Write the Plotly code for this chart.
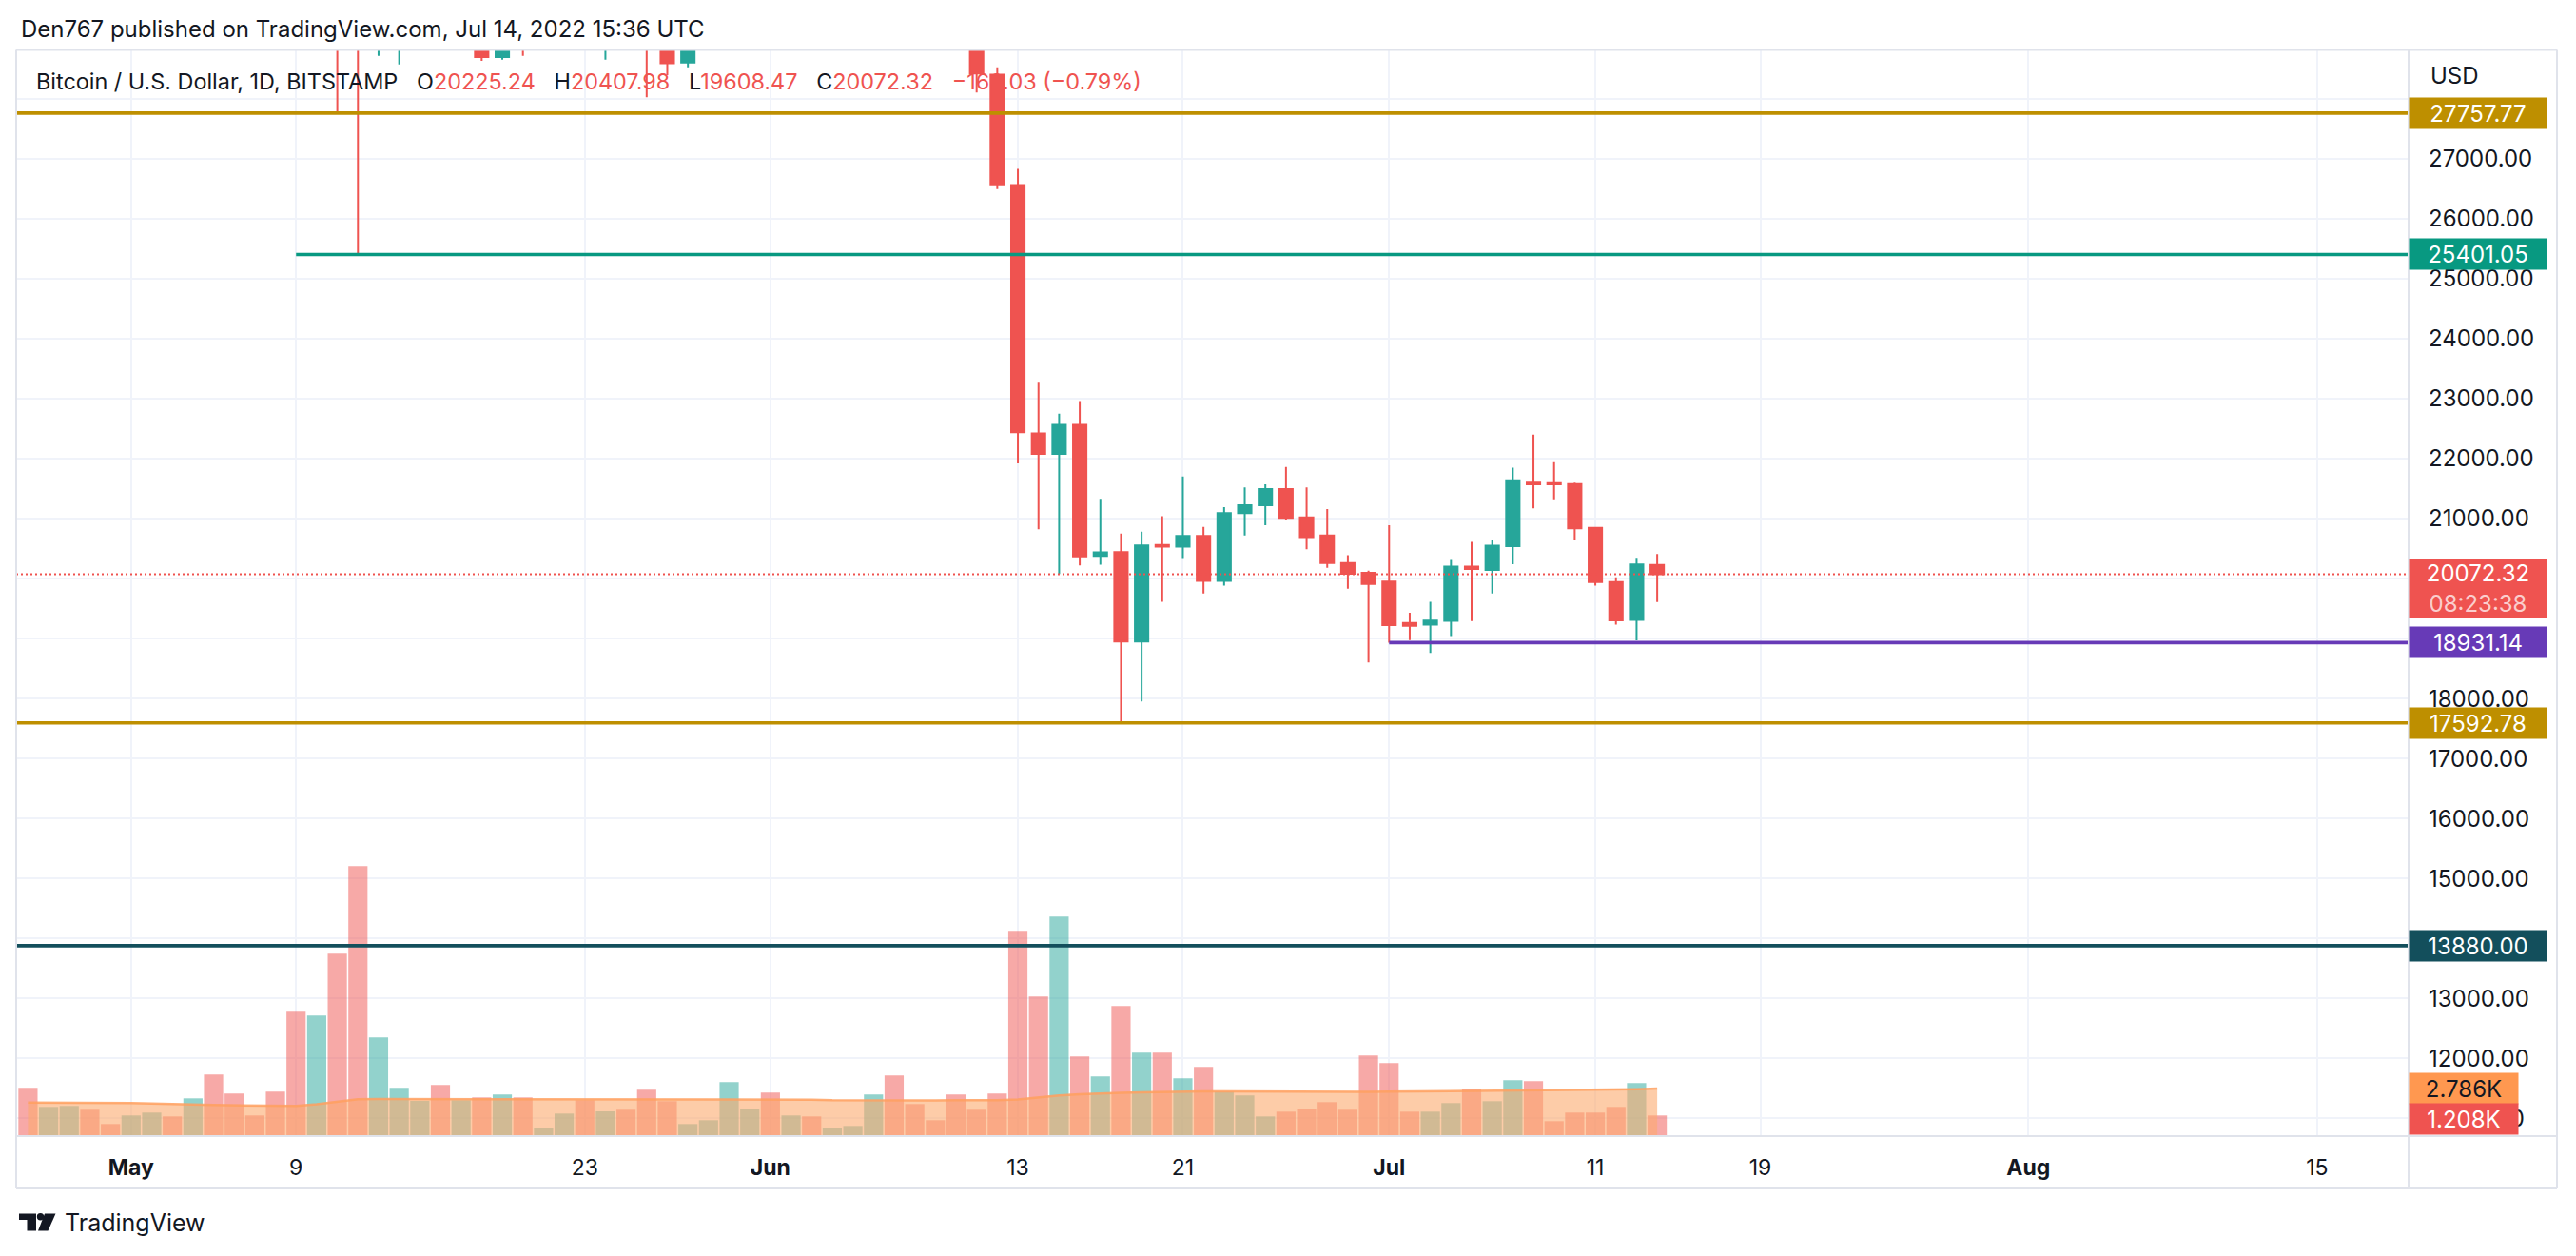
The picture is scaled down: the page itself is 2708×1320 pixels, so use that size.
import plotly.graph_objects as go
import pandas as pd

# ---------------- data ----------------
dates = pd.date_range("2022-04-26", "2022-07-14", freq="D")

open_ = [40430, 38120, 39240, 39750, 38600, 37650, 38470, 38530, 37730, 39690,
         36550, 36010, 35470, 34060, 30080, 31010, 29080, 29030, 29280, 30080,
         31330, 29850, 30430, 28690, 30300, 29190, 29430, 30290, 29100, 29650,
         29540, 29190, 28600, 29020, 29450, 31740, 31800, 29800, 30450, 29700,
         29860, 29900, 31370, 31130, 30200, 30110, 29090, 28400, 26560, 22420,
         22080, 22560, 20378, 20440, 18950, 20560, 20530, 20710, 19960, 21090,
         21220, 21490, 21020, 20720, 20260, 20095, 19950, 19260, 19230, 19296,
         20200, 20144, 20540, 21600, 21590, 21573, 20846, 19942, 19312, 20225.24]
high = [40800, 39450, 40370, 39920, 38800, 38700, 39150, 38640, 40000, 39820,
        36660, 36120, 35500, 34240, 32650, 32150, 30030, 30990, 30300, 31440,
        31330, 30770, 30680, 30530, 30740, 29620, 30470, 30650, 29820, 30190,
        29850, 29370, 29200, 29540, 32200, 32380, 31960, 30650, 30670, 29950,
        30160, 31740, 31550, 31320, 30690, 30380, 29440, 28520, 26830, 23280,
        22750, 22960, 21330, 20750, 20780, 21040, 21700, 20860, 21190, 21520,
        21570, 21860, 21520, 21160, 20390, 20130, 20890, 19430, 19610, 20310,
        20610, 20645, 21850, 22400, 21940, 21600, 20850, 20020, 20346, 20407.98]
low = [37700, 37880, 38870, 38200, 37600, 37400, 38050, 37500, 37660, 35800,
       35260, 34780, 33700, 30030, 29730, 27757.77, 25401.05, 28710, 28570, 29480,
       29100, 29450, 28630, 28650, 28710, 28950, 29240, 28890, 28650, 29320,
       28020, 28390, 28520, 28840, 29300, 31200, 29500, 29580, 29300, 29480,
       29510, 29880, 29220, 29860, 29950, 28870, 28100, 26490, 21920, 20820,
       20075, 20220, 20230, 17592.78, 17950, 19610, 20340, 19750, 19880, 20720,
       20890, 20970, 20490, 20180, 19830, 18600, 18931.14, 18975, 18760, 19040,
       19290, 19750, 20240, 21170, 21320, 20640, 19880, 19230, 18970, 19608.47]
close = [38120, 39240, 39750, 38600, 37650, 38470, 38530, 37730, 39690, 36550,
         36010, 35470, 34060, 30080, 31010, 29080, 29030, 29280, 30080, 31330,
         29850, 30430, 28690, 30300, 29190, 29430, 30290, 29100, 29650, 29540,
         29190, 28590, 29020, 29450, 31740, 31800, 29800, 30450, 29700, 29860,
         29900, 31370, 31130, 30200, 30110, 29090, 28420, 26570, 22440, 22080,
         22560, 20370, 20435, 18950, 20550, 20530, 20710, 19960, 21090, 21220,
         21490, 21010, 20690, 20260, 20080, 19910, 19225, 19210, 19300, 20200,
         20160, 20548, 21637, 21570, 21570, 20838, 19942, 19304, 20232.35, 20072.32]
volume = [2824, 1710, 1766, 1543, 707, 1209, 1376, 1153, 2211, 3604,
          2490, 1209, 2601, 7280, 7057, 10678, 15802, 5776, 2824, 2061,
          2991, 2100, 2267, 2434, 2267, 485, 1320, 2100, 1448, 1543,
          2713, 2044, 707, 930, 3158, 1599, 2545, 1209, 1153, 485,
          596, 2434, 3548, 1877, 930, 2434, 1543, 2490, 12014, 8171,
          12850, 4662, 3492, 7614, 4885, 4885, 3381, 4049, 2601, 2378,
          1153, 1431, 1599, 1988, 1543, 4718, 4272, 1431, 1431, 1933,
          2768, 2044, 3270, 3214, 874, 1376, 1376, 1710, 3102, 1208]
vol_ma = [1968, 1968, 1960, 1950, 1940, 1930, 1912, 1900, 1850, 1820,
          1810, 1800, 1780, 1764, 1860, 2010, 2154, 2170, 2170, 2160,
          2160, 2160, 2160, 2154, 2154, 2154, 2154, 2154, 2154, 2154,
          2154, 2154, 2154, 2154, 2154, 2150, 2150, 2150, 2130, 2098,
          2090, 2090, 2090, 2090, 2090, 2098, 2098, 2098, 2150, 2284,
          2377, 2451, 2507, 2540, 2562, 2590, 2600, 2618, 2618, 2610,
          2600, 2590, 2581, 2581, 2581, 2590, 2599, 2610, 2618, 2630,
          2655, 2670, 2680, 2692, 2700, 2711, 2720, 2730, 2750, 2786]

level_values = [27757.77, 25401.05, 18931.14, 17592.78, 13880.00]
level_colors = ["#be8f00", "#089981", "#673ab7", "#be8f00", "#134f5c"]
level_starts = [None, "2022-05-09", "2022-07-01", None, None]
countdown = "08:23:38"

price_ticks = list(range(11000, 29000, 1000))
hidden_price_labels = [14000, 19000, 20000, 28000]   # covered by price labels in the original
x_tick_dates = ["2022-05-01", "2022-05-09", "2022-05-23", "2022-06-01", "2022-06-13",
                "2022-06-21", "2022-07-01", "2022-07-11", "2022-07-19", "2022-08-01",
                "2022-08-15"]
x_tick_text = ["<b>May</b>", "9", "23", "<b>Jun</b>", "13", "21", "<b>Jul</b>", "11",
               "19", "<b>Aug</b>", "15"]

X_RANGE = ["2022-04-25 10:16", "2022-08-19 10:25"]
PRICE_RANGE = [10706, 28803]
VOL_RANGE = [0, 63550]

UP, DOWN = "#26a69a", "#ef5350"
TXT = "#131722"
FONT = "Inter"
BORDER = "#e0e3eb"
GRID = "#f0f3fa"

# ---------------- geometry helpers (full-page pixels -> paper) ----------------
PL, PR, PT, PB = 17, 2532, 53, 1194   # plot area in page px


def px(x):
    return (x - PL) / (PR - PL)


def py(y):
    return (PB - y) / (PB - PT)


fig = go.Figure()

# volume bars (base axis)
vol_colors = ["rgba(38,166,154,0.5)" if c >= o else "rgba(239,83,80,0.5)"
              for o, c in zip(open_, close)]
fig.add_trace(go.Bar(x=dates, y=volume, marker=dict(color=vol_colors, line=dict(width=0)),
                     width=0.93 * 86400000, yaxis="y", xaxis="x", hoverinfo="skip",
                     showlegend=False))
# volume MA area
fig.add_trace(go.Scatter(x=dates, y=vol_ma, mode="lines", fill="tozeroy",
                         fillcolor="rgba(252,170,110,0.6)",
                         line=dict(color="rgba(255,160,95,0.85)", width=2.5),
                         yaxis="y", xaxis="x", hoverinfo="skip", showlegend=False))

# candles (overlay axis)
fig.add_trace(go.Candlestick(x=dates, open=open_, high=high, low=low, close=close,
                             increasing=dict(line=dict(color=UP, width=2), fillcolor=UP),
                             decreasing=dict(line=dict(color=DOWN, width=2), fillcolor=DOWN),
                             whiskerwidth=0, yaxis="y2", xaxis="x", showlegend=False,
                             hoverinfo="skip"))

shapes = []
# horizontal levels
for v, col, start in zip(level_values, level_colors, level_starts):
    if start is None:
        shapes.append(dict(type="line", xref="paper", yref="y2", x0=0, x1=1, y0=v, y1=v,
                           line=dict(color=col, width=3.6), layer="above"))
    else:
        shapes.append(dict(type="line", xref="x", yref="y2", x0=start, x1=X_RANGE[1],
                           y0=v, y1=v, line=dict(color=col, width=3.6), layer="above"))
# last price dotted line
last = close[-1]
shapes.append(dict(type="line", xref="paper", yref="y2", x0=0, x1=1, y0=last, y1=last,
                   line=dict(color=DOWN, width=2, dash="2px,3px"), layer="above"))

# frame lines
RIGHT = px(2688)
BOT = py(1249)
TOP = py(52.5)
for d in [
    dict(x0=0, x1=RIGHT, y0=TOP, y1=TOP),        # top
    dict(x0=0, x1=RIGHT, y0=BOT, y1=BOT),        # bottom
    dict(x0=0, x1=0, y0=BOT, y1=TOP),            # left
    dict(x0=RIGHT, x1=RIGHT, y0=BOT, y1=TOP),    # right
    dict(x0=1, x1=1, y0=BOT, y1=TOP),            # price axis separator
    dict(x0=0, x1=RIGHT, y0=0, y1=0),            # time axis separator
]:
    shapes.append(dict(type="line", xref="paper", yref="paper",
                       line=dict(color=BORDER, width=2), layer="above", **d))


# TradingView logo
def poly(points):
    s = "M " + " L ".join(f"{px(a):.5f},{py(b):.5f}" for a, b in points) + " Z"
    return s


shapes.append(dict(type="path", xref="paper", yref="paper", line=dict(width=0),
                   fillcolor=TXT,
                   path=poly([(20, 1275.5), (38, 1275.5), (38, 1293.5), (28.5, 1293.5),
                              (28.5, 1282), (20, 1282)])))
shapes.append(dict(type="path", xref="paper", yref="paper", line=dict(width=0),
                   fillcolor=TXT,
                   path=poly([(47, 1275.5), (58.5, 1275.5), (50.5, 1293.5), (40, 1293.5)])))
shapes.append(dict(type="circle", xref="paper", yref="paper", line=dict(width=0),
                   fillcolor=TXT, x0=px(38.8), x1=px(46.2), y0=py(1282.4), y1=py(1275)))

annotations = []
# header
annotations.append(dict(xref="paper", yref="paper", x=px(20), y=py(31), xanchor="left",
                        yanchor="middle", showarrow=False,
                        text="Den767 published on TradingView.com, Jul 14, 2022 15:36 UTC",
                        font=dict(family=FONT, size=24, color=TXT)))
# legend line
chg = close[-1] - close[-2]
pct = chg / close[-2] * 100
red = lambda s: f"<span style='color:{DOWN}'>{s}</span>"
sp = "\u00a0\u00a0\u00a0"
legend = ("Bitcoin / U.S. Dollar, 1D, BITSTAMP" + sp +
          "O" + red(f"{open_[-1]:.2f}") + sp +
          "H" + red(f"{high[-1]:.2f}") + sp +
          "L" + red(f"{low[-1]:.2f}") + sp +
          "C" + red(f"{close[-1]:.2f}") + sp +
          red(f"{chg:.2f} ({pct:.2f}%)".replace("-", "\u2212")))
annotations.append(dict(xref="paper", yref="paper", x=px(36), y=py(85), xanchor="left",
                        yanchor="middle", showarrow=False, text=legend,
                        font=dict(family=FONT, size=23.4, color=TXT)))
# USD
annotations.append(dict(xref="paper", yref="paper", x=px(2553), y=py(79), xanchor="left",
                        yanchor="middle", showarrow=False, text="USD",
                        font=dict(family=FONT, size=24, color=TXT)))
# logo word
annotations.append(dict(xref="paper", yref="paper", x=px(66), y=py(1285), xanchor="left",
                        yanchor="middle", showarrow=False, text="TradingView",
                        font=dict(family=FONT, size=25, color=TXT)))

# price axis labels for levels
for v, col in zip(level_values, level_colors):
    annotations.append(dict(xref="paper", yref="y2", x=1, y=v, xanchor="left",
                            yanchor="middle", showarrow=False, text=f"{v:.2f}",
                            bgcolor=col, width=138, height=26, borderpad=3,
                            font=dict(family=FONT, size=24, color="white"), align="center"))
# last price label with countdown
annotations.append(dict(xref="paper", yref="y2", x=1, y=last, xanchor="left",
                        yanchor="top", yshift=16, showarrow=False,
                        text=f"{last:.2f}<br><span style='color:rgba(255,255,255,0.72)'>{countdown}</span>",
                        bgcolor=DOWN, width=138, height=55, borderpad=3,
                        font=dict(family=FONT, size=24, color="white"), align="center"))
# volume labels
annotations.append(dict(xref="paper", yref="y", x=1, y=vol_ma[-1], xanchor="left",
                        yanchor="middle", showarrow=False, text=f"{vol_ma[-1]/1000:.3f}K",
                        bgcolor="#ff9850", width=108, height=26, borderpad=3,
                        font=dict(family=FONT, size=24, color=TXT), align="center"))
annotations.append(dict(xref="paper", yref="y", x=1, y=volume[-1], xanchor="left",
                        yanchor="middle", yshift=-4, showarrow=False,
                        text=f"{volume[-1]/1000:.3f}K",
                        bgcolor=DOWN, width=108, height=26, borderpad=3,
                        font=dict(family=FONT, size=24, color="white"), align="center"))

OFF = 8  # default body margin of the html page
W, H = 2708 - 2 * OFF, 1320 - 2 * OFF
fig.update_layout(
    width=W, height=H,
    margin=dict(l=PL - OFF, r=W - (PR - OFF), t=PT - OFF, b=H - (PB - OFF), pad=0),
    paper_bgcolor="white", plot_bgcolor="white",
    showlegend=False, hovermode=False,
    boxgap=0.35, boxgroupgap=0,
    font=dict(family=FONT, color=TXT),
    xaxis=dict(type="date", range=X_RANGE, tickvals=x_tick_dates, ticktext=x_tick_text,
               showgrid=True, gridcolor=GRID, gridwidth=2, zeroline=False, showline=False,
               ticks="", ticklabelstandoff=17, tickfont=dict(family=FONT, size=23, color=TXT),
               rangeslider=dict(visible=False), fixedrange=True),
    yaxis=dict(range=VOL_RANGE, visible=False, showgrid=False, zeroline=False,
               fixedrange=True),
    yaxis2=dict(range=PRICE_RANGE, overlaying="y", side="right", anchor="x",
                tickvals=price_ticks,
                ticktext=["" if t in hidden_price_labels else f"{t:.2f}" for t in price_ticks],
                showgrid=True, gridcolor=GRID, gridwidth=2, zeroline=False, showline=False,
                ticks="", ticklabelstandoff=20,
                tickfont=dict(family=FONT, size=24, color=TXT), fixedrange=True),
    shapes=shapes,
    annotations=annotations,
)

fig.write_html("out.html", config={"displayModeBar": False})
